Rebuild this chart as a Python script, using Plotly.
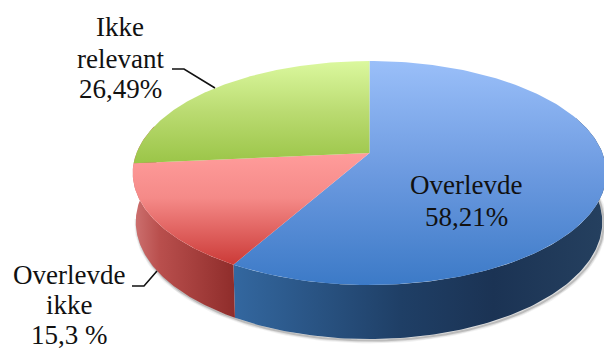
import numpy as np
import plotly.graph_objects as go

# ---- chart data (clockwise from 12 o'clock) ----
categories = ["Overlevde", "Overlevde ikke", "Ikke relevant"]
values = [58.21, 15.3, 26.49]
label_lines = [["Overlevde", "58,21%"], ["Overlevde", "ikke", "15,3 %"], ["Ikke", "relevant", "26,49%"]]

# ---- projection of the disc onto the 604x351 page ----
CX, CY0, A, B, K = 369.5, 153.0, 233.0, 108.4, 0.1786
ELL_CY, BOT_CX, BOT_CY, BOT_SX, BOT_SY = 173.0, 369.0, 222.0, 0.985, 1.045


def top_arc(a0, a1, n=160):
    th = np.radians(np.linspace(a0, a1, n))
    d = 1 + K * np.cos(th)
    return CX + A * np.sin(th) / d, CY0 - B * np.cos(th) / d


def bot_arc(a0, a1, n=160):
    x, y = top_arc(a0, a1, n)
    return BOT_CX + BOT_SX * (x - CX), BOT_CY + BOT_SY * (y - ELL_CY)


edges = 360 * np.cumsum([0] + values) / sum(values)

fig = go.Figure()

# soft drop shadow along the lower rim
for w, op in [(6, 0.05), (4, 0.08), (2, 0.16)]:
    sx, sy = bot_arc(65, 262)
    fig.add_trace(go.Scatter(x=sx + 1.5, y=sy + 1.5, mode="lines",
                             line=dict(color=f"rgba(0,0,0,{op})", width=w),
                             hoverinfo="skip"))

# side walls
walls = [
    (70, edges[1], [[0, "#33679F"], [0.45, "#1F3F66"], [0.7, "#1B3354"], [1, "#25405F"]], 235, 604),
    (edges[1], 285, [[0, "#CD7170"], [0.25, "#B94F4D"], [1, "#8E2C2A"]], 134, 236),
]
for a0, a1, cs, g0, g1 in walls:
    tx, ty = top_arc(a0, a1)
    bx, by = bot_arc(a0, a1)
    fig.add_trace(go.Scatter(
        x=np.r_[tx, bx[::-1]], y=np.r_[ty, by[::-1]], mode="lines", fill="toself",
        line=dict(width=0), hoverinfo="skip",
        fillgradient=dict(type="horizontal", colorscale=cs, start=g0, stop=g1)))

# top faces
face_styles = [
    ([[0, "#9ABFF9"], [0.5, "#6C9AE0"], [1, "#3C7AC7"]], 61, 285),
    ([[0, "#FF9C9B"], [0.4, "#F58A88"], [1, "#CB3A37"]], 153, 265),
    ([[0, "#DBF89E"], [0.5, "#BADB71"], [1, "#9BC548"]], 61, 163),
]
for i, (cs, g0, g1) in enumerate(face_styles):
    ax, ay = top_arc(edges[i], edges[i + 1])
    fig.add_trace(go.Scatter(
        x=np.r_[CX, ax, CX], y=np.r_[CY0, ay, CY0], mode="lines", fill="toself",
        line=dict(width=0), name=categories[i], hoverinfo="name",
        fillgradient=dict(type="vertical", colorscale=cs, start=g0, stop=g1)))

# leader lines
for lx, ly in [([172, 184, 215], [69, 69, 88]), ([132, 144, 157], [286, 286, 271])]:
    fig.add_trace(go.Scatter(x=lx, y=ly, mode="lines",
                             line=dict(color="#111111", width=1.6), hoverinfo="skip"))

# labels
FONT = dict(family="Liberation Serif", size=27, color="#111111")
label_pos = [(466, [185, 217]), (69, [275, 305, 335]), (120, [27, 59, 89])]
for lines, (x, ys) in zip(label_lines, label_pos):
    for txt, y in zip(lines, ys):
        fig.add_annotation(x=x, y=y, text=txt, showarrow=False, font=FONT, align="center",
                           xanchor="center", yanchor="middle")

fig.update_layout(
    width=604, height=351, margin=dict(l=0, r=0, t=0, b=0),
    paper_bgcolor="white", plot_bgcolor="white", showlegend=False,
    xaxis=dict(range=[0, 604], visible=False, fixedrange=True),
    yaxis=dict(range=[351, 0], visible=False, fixedrange=True),
)
fig.write_html("out.html", config={"displayModeBar": False},
               post_script="document.body.style.margin='0';document.documentElement.style.overflow='hidden';")
